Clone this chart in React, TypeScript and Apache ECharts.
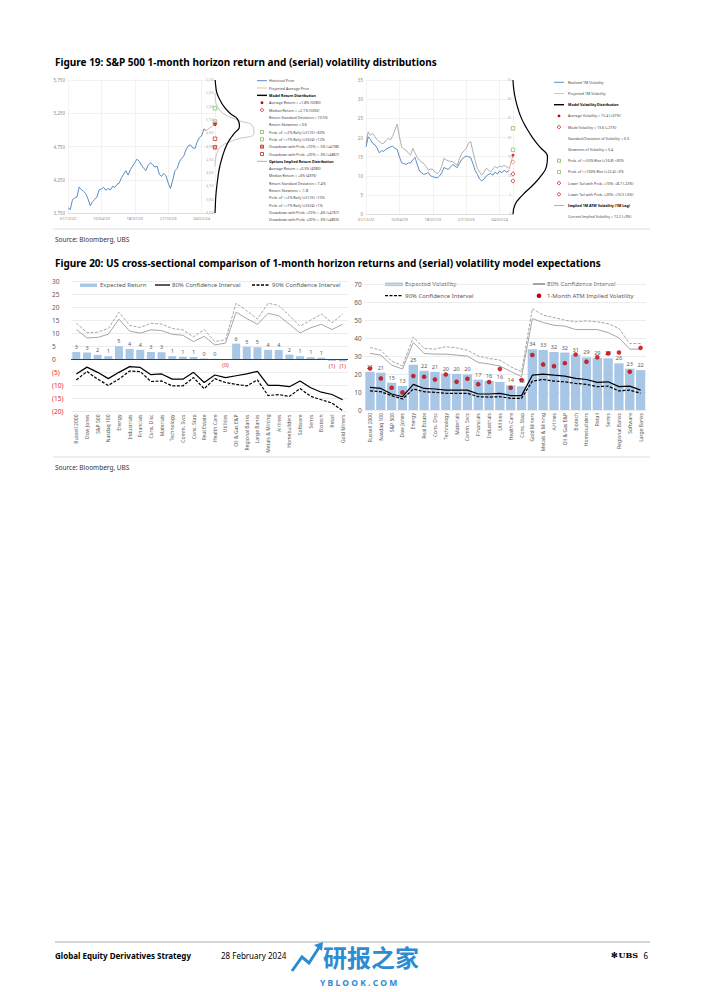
import React, { useEffect, useRef } from 'react';
import * as echarts from 'echarts';

const FONT = '"Noto Sans", "Open Sans", sans-serif';

// ---------- Figure 19 ----------
const dateTickLabels = ['01/12/22', '10/04/23', '18/07/23', '27/10/23', '04/02/24'];
const TICK_STEP = 15;
const HORIZON_INDEX = 66;

const priceHistory = [3830, 3800, 3950, 3975, 3990, 4140, 4100, 4075, 4040, 3960, 3860, 3920, 3955, 3990, 4100, 4110, 4135, 4090, 4120, 4095, 4150, 4135, 4180, 4200, 4280, 4335, 4385, 4320, 4400, 4455, 4510, 4560, 4525, 4470, 4420, 4390, 4470, 4505, 4480, 4440, 4455, 4330, 4300, 4345, 4310, 4200, 4120, 4240, 4385, 4420, 4520, 4570, 4610, 4700, 4760, 4775, 4730, 4720, 4820, 4885, 4910, 5015, 4990];
const priceAverage = 5083;
const priceMedian = 5092;
const priceRallyLevels = [5125, 5324];
const priceDrawdown10 = 4738;
const priceDrawdown20 = 4867;

const distPriceLevels = [3750, 3850, 3950, 4050, 4150, 4250, 4350, 4450, 4550, 4650, 4750, 4850, 4950, 5050, 5150, 5250, 5350, 5450, 5550, 5650, 5750];
const modelReturnDensity = [0, 0.3, 0.6, 1.1, 1.8, 2.6, 3.5, 4.8, 6.5, 8.5, 11, 14.5, 19.5, 24.5, 23, 15, 9, 5, 2, 0.8, 0.2];
const impliedReturnDensity = [null, null, null, null, null, null, null, 0, 0.5, 2, 6, 20, 39, 38, 22, 8, 2.5, 0.5, 0, null, null];

const realizedVol = [17.6, 20.2, 19.5, 18.5, 18.1, 17.3, 16.0, 16.6, 16.4, 17.0, 17.3, 17.6, 17.7, 17.2, 16.9, 15.0, 13.4, 13.2, 13.0, 13.4, 13.4, 14.2, 14.8, 13.0, 11.3, 10.8, 10.4, 10.6, 10.9, 10.0, 9.8, 9.6, 9.5, 10.0, 10.8, 12.2, 11.9, 11.7, 12.4, 13.0, 12.5, 12.2, 13.3, 14.3, 14.8, 15.2, 15.0, 14.8, 13.2, 11.5, 10.4, 9.2, 8.7, 9.2, 10.0, 10.4, 10.6, 10.2, 11.0, 10.5, 11.3, 10.8, 11.5, 11.0, 11.2];
const impliedVolLagged = [18.5, 21.5, 20.6, 21.1, 20.2, 19.5, 18.9, 18.5, 18.5, 19.2, 19.8, 19.4, 20.5, 22.0, 23.5, 20.2, 17.6, 17.0, 16.7, 16.0, 15.4, 17.2, 16.0, 14.8, 14.1, 13.6, 13.2, 12.4, 11.5, 11.8, 11.7, 11.0, 10.6, 11.1, 12.5, 14.6, 14.2, 13.9, 13.8, 13.7, 13.2, 12.8, 14.5, 15.9, 16.5, 17.2, 18.5, 19.0, 16.3, 14.0, 12.0, 11.0, 10.2, 11.0, 12.0, 11.5, 11.1, 11.8, 12.5, 12.0, 12.6, 12.3, 12.8, 12.4, 12.2];
const volAverage = 15.4;
const volMode = 13.6;
const volRiseLevels = [16.8, 22.4];
const volLowerTails = [8.7, 10.5];

const distVolLevels = [0, 2.5, 5, 7.5, 10, 12.5, 15, 17.5, 20, 22.5, 25, 27.5, 30, 32.5, 35];
const modelVolDensity = [0, 2, 9.5, 19.5, 28, 33.5, 34.5, 27, 19.5, 13.5, 8.5, 5, 2.5, 0.8, 0];

const returnLegendTexts = [
  'Historical Price',
  'Projected Average Price',
  'Model Return Distribution',
  'Average Return = +1.8% (5083)',
  'Median Return = +2.1% (5092)',
  'Return Standard Deviation = 10.5%',
  'Return Skewness = 0.6',
  'Prob. of >=2% Rally (≥5125) ≈60%',
  'Prob. of >=7% Rally (≥5324) ≈12%',
  'Drawdown with Prob. ≤10% ≈ -5% (≤4738)',
  'Drawdown with Prob. ≤20% ≈ -3% (≤4867)',
  'Options Implied Return Distribution',
  'Average Return = +0.3% (4980)',
  'Median Return = +0% (4976)',
  'Return Standard Deviation = 7.4%',
  'Return Skewness = -1.8',
  'Prob. of >=2% Rally (≥5125) ≈15%',
  'Prob. of >=7% Rally (≥5324) ≈1%',
  'Drawdown with Prob. ≤10% ≈ -4% (≤4767)',
  'Drawdown with Prob. ≤20% ≈ -3% (≤4853)',
];
const returnLegendSymbols = ['blue', 'red', 'black', 'dot', 'ring', '', '', 'green', 'green', 'redsq', 'redsqo', 'grey', '', '', '', '', '', '', '', ''];

const volLegendTexts = [
  'Realized 1M Volatility',
  'Projected 1M Volatility',
  'Model Volatility Distribution',
  'Average Volatility = 15.4 (+37%)',
  'Mode Volatility = 13.6 (+21%)',
  'Standard Deviation of Volatility = 3.3',
  'Skewness of Volatility = 0.4',
  'Prob. of >=50% Rise (≥16.8) ≈30%',
  'Prob. of >=100% Rise (≥22.4) ≈3%',
  'Lower Tail with Prob. ≤10%: ≤8.7 (-22%)',
  'Lower Tail with Prob. ≤20%: ≤10.5 (-6%)',
  'Implied 1M ATM Volatility (1M Lag)',
  'Current Implied Volatility = 12.2 (+9%)',
];
const volLegendSymbols = ['blue', 'red', 'black', 'dot', 'ring', '', '', 'green', 'green', 'ring', 'ring', 'grey', ''];

// ---------- Figure 20 ----------
const returnCategories = ['Russell 2000', 'Dow Jones', 'S&P 500', 'Nasdaq 100', 'Energy', 'Industrials', 'Financials', 'Cons. Disc', 'Materials', 'Technology', 'Comm. Svcs', 'Cons. Stap', 'Real Estate', 'Health Care', 'Utilities', 'Oil & Gas E&P', 'Regional Banks', 'Large Banks', 'Metals & Mining', 'Airlines', 'Homebuilders', 'Software', 'Semis', 'Biotech', 'Retail', 'Gold Miners'];
const expectedReturn = [2.8, 2.6, 1.7, 1.2, 5.0, 4.0, 3.6, 2.8, 2.7, 1.2, 1.0, 0.9, 0.3, 0.2, -0.3, 6.0, 4.8, 4.6, 3.6, 3.6, 1.8, 1.2, 0.8, 0.6, -0.6, -0.8];
const return80Upper = [11.4, 8.2, 8.4, 9.6, 15.4, 10.8, 10.0, 11.3, 11.0, 9.6, 9.2, 6.8, 8.8, 5.5, 6.2, 18.0, 15.6, 13.4, 17.6, 16.7, 13.4, 10.1, 12.1, 13.4, 11.4, 13.4];
const return90Upper = [13.9, 10.2, 10.4, 11.8, 18.0, 13.0, 12.2, 13.8, 13.5, 11.8, 11.3, 8.6, 11.4, 6.8, 7.5, 21.5, 18.6, 15.4, 21.5, 20.6, 16.7, 12.7, 15.0, 17.3, 14.0, 17.3];
const return80Lower = [-5.6, -3.0, -5.0, -7.4, -5.0, -2.8, -3.1, -5.9, -5.6, -7.6, -7.6, -5.0, -8.9, -6.0, -7.0, -6.3, -5.6, -4.6, -10.0, -10.0, -10.5, -8.3, -10.9, -12.6, -13.5, -15.5];
const return90Lower = [-7.9, -4.7, -7.6, -10.0, -7.6, -4.5, -4.7, -8.5, -8.3, -10.2, -10.2, -7.0, -11.3, -7.4, -8.9, -9.6, -10.2, -7.9, -13.9, -13.5, -14.2, -11.2, -14.2, -15.5, -16.8, -19.7];

const volCategories = ['Russell 2000', 'Nasdaq 100', 'S&P 500', 'Dow Jones', 'Energy', 'Real Estate', 'Cons. Disc', 'Technology', 'Materials', 'Comm. Svcs', 'Financials', 'Industrials', 'Utilities', 'Health Care', 'Cons. Stap', 'Gold Miners', 'Metals & Mining', 'Airlines', 'Oil & Gas E&P', 'Biotech', 'Homebuilders', 'Retail', 'Semis', 'Regional Banks', 'Software', 'Large Banks'];
const expectedVol = [21.3, 20.8, 15.2, 13.4, 25.2, 21.8, 21.2, 20.2, 20.1, 19.8, 16.9, 16.2, 15.6, 13.8, 13.2, 33.8, 33.4, 32.3, 32.0, 30.8, 29.3, 29.0, 28.8, 26.0, 23.0, 22.2];
const atmImpliedVol = [23.1, 17.6, 12.4, 9.8, 18.9, 18.5, 17.0, 19.8, 15.7, 17.4, 14.4, 15.6, 22.8, 12.4, 16.7, 30.6, 25.4, 24.4, 26.1, 30.9, 26.9, 29.4, 31.5, 32.0, 21.3, 34.6];
const vol80Upper = [31.5, 30.6, 25.0, 22.8, 37.6, 31.5, 31.1, 31.1, 30.6, 30.0, 26.5, 25.6, 24.5, 21.5, 18.5, 50.9, 48.7, 47.2, 46.7, 44.8, 44.8, 44.8, 43.1, 40.2, 33.9, 33.9];
const vol90Upper = [34.8, 33.3, 27.2, 24.6, 40.7, 34.3, 33.9, 35.2, 34.6, 33.3, 30.0, 28.7, 27.8, 24.1, 21.3, 56.5, 52.8, 51.5, 50.0, 49.1, 49.6, 49.1, 48.1, 45.4, 37.0, 37.0];
const vol80Lower = [12.6, 12.0, 8.9, 7.4, 14.3, 12.0, 11.7, 11.1, 11.1, 11.1, 8.9, 8.9, 9.3, 8.0, 8.0, 19.4, 20.0, 19.4, 18.9, 17.6, 17.0, 15.4, 15.7, 13.0, 13.3, 11.1];
const vol90Lower = [10.7, 10.2, 8.0, 6.1, 11.7, 10.2, 9.8, 9.3, 9.3, 9.3, 7.4, 7.2, 7.4, 6.5, 6.5, 16.1, 17.0, 16.1, 15.7, 14.8, 14.3, 13.0, 13.3, 10.6, 11.1, 9.3];

const texts = {
  fig19: 'Figure 19: S&P 500 1-month horizon return and (serial) volatility distributions',
  fig20: 'Figure 20: US cross-sectional comparison of 1-month horizon returns and (serial) volatility model expectations',
  source: 'Source: Bloomberg, UBS',
  footerBold: 'Global Equity Derivatives Strategy',
  footerDate: '28 February 2024',
  page: '6',
  watermark: '研报之家',
  watermarkSite: 'Y B L O O K . C O M',
};

// ---------- colours ----------
const BLUE = '#4a7ebb';
const GREY_LINE = '#a6a6a6';
const RED = '#c00000';
const GREEN = '#70ad47';
const BAR = '#a8c6e6';
const TXT = '#595959';
const NEG = '#e0282e';
const GRID = '#e4e4e4';
const WM = '#2d8bd0';

function legendSymbol(kind: string, x: number, y: number, g: any[]) {
  const lineStyle = (stroke: string, w: number) => ({ type: 'line', silent: true, shape: { x1: x - 5, y1: y, x2: x + 5, y2: y }, style: { stroke, lineWidth: w } });
  if (kind === 'blue') g.push(lineStyle(BLUE, 0.9));
  else if (kind === 'red') g.push(lineStyle('#e46c6c', 0.5));
  else if (kind === 'black') g.push(lineStyle('#000', 1.4));
  else if (kind === 'grey') g.push(lineStyle('#b0b0b0', 1));
  else if (kind === 'dot') g.push({ type: 'circle', silent: true, shape: { cx: x, cy: y, r: 1.4 }, style: { fill: RED } });
  else if (kind === 'ring') g.push({ type: 'circle', silent: true, shape: { cx: x, cy: y, r: 1.5 }, style: { fill: '#fff', stroke: RED, lineWidth: 0.7 } });
  else if (kind === 'green') g.push({ type: 'rect', silent: true, shape: { x: x - 1.5, y: y - 1.5, width: 3, height: 3 }, style: { fill: '#fff', stroke: GREEN, lineWidth: 0.7 } });
  else if (kind === 'redsq') g.push({ type: 'rect', silent: true, shape: { x: x - 1.5, y: y - 1.5, width: 3, height: 3 }, style: { fill: '#e8a0a0', stroke: RED, lineWidth: 0.7 } });
  else if (kind === 'redsqo') g.push({ type: 'rect', silent: true, shape: { x: x - 1.5, y: y - 1.5, width: 3, height: 3 }, style: { fill: '#fff', stroke: RED, lineWidth: 0.7 } });
}

function txt(x: number, y: number, text: string, font: string, fill = '#000', align = 'left', extra: any = {}) {
  return { type: 'text', silent: true, x, y, style: { text, font, fill, textAlign: align, textVerticalAlign: 'middle', ...extra } };
}

function buildOption() {
  const g: any[] = [];
  // titles, sources, rules
  g.push(txt(55, 62, texts.fig19, `bold 10px ${FONT}`));
  g.push(txt(55, 263, texts.fig20, `bold 10px ${FONT}`));
  g.push({ type: 'line', silent: true, shape: { x1: 53, y1: 229, x2: 650, y2: 229 }, style: { stroke: '#c8c8c8', lineWidth: 0.6 } });
  g.push(txt(55, 239, texts.source, `6.5px ${FONT}`, '#333'));
  g.push({ type: 'line', silent: true, shape: { x1: 53, y1: 457, x2: 650, y2: 457 }, style: { stroke: '#c8c8c8', lineWidth: 0.6 } });
  g.push(txt(55, 467, texts.source, `6.5px ${FONT}`, '#333'));

  // figure 19 legends
  returnLegendTexts.forEach((t, i) => {
    const y = 80.7 + i * 7.33;
    legendSymbol(returnLegendSymbols[i], 262, y, g);
    const bold = i === 2 || i === 11;
    g.push(txt(269, y, t, `${bold ? 'bold ' : ''}3.6px ${FONT}`, bold ? '#000' : '#404040', 'left', { width: 76, overflow: 'truncate', ellipsis: '' }));
  });
  volLegendTexts.forEach((t, i) => {
    const y = 82.3 + i * 11.2;
    legendSymbol(volLegendSymbols[i], 559, y, g);
    const bold = i === 2 || i === 11;
    g.push(txt(568, y, t, `${bold ? 'bold ' : ''}3.6px ${FONT}`, bold ? '#000' : '#404040'));
  });

  // figure 20 legends
  g.push({ type: 'rect', silent: true, shape: { x: 80, y: 283.5, width: 17, height: 3.5 }, style: { fill: BAR } });
  g.push(txt(100, 285, 'Expected Return', `6px ${FONT}`, TXT));
  g.push({ type: 'line', silent: true, shape: { x1: 155, y1: 285, x2: 170, y2: 285 }, style: { stroke: '#000', lineWidth: 1.3 } });
  g.push(txt(172, 285, '80% Confidence Interval', `6px ${FONT}`, TXT));
  g.push({ type: 'line', silent: true, shape: { x1: 252, y1: 285, x2: 270, y2: 285 }, style: { stroke: '#000', lineWidth: 1.3, lineDash: [3, 1.5] } });
  g.push(txt(272, 285, '90% Confidence Interval', `6px ${FONT}`, TXT));

  g.push({ type: 'rect', silent: true, shape: { x: 385, y: 282.6, width: 18, height: 3.5 }, style: { fill: BAR } });
  g.push(txt(405, 284.3, 'Expected Volatility', `6px ${FONT}`, TXT));
  g.push({ type: 'line', silent: true, shape: { x1: 533, y1: 284.3, x2: 545, y2: 284.3 }, style: { stroke: '#000', lineWidth: 1.3 } });
  g.push(txt(547, 284.3, '80% Confidence Interval', `6px ${FONT}`, TXT));
  g.push({ type: 'line', silent: true, shape: { x1: 385, y1: 295.7, x2: 403, y2: 295.7 }, style: { stroke: '#000', lineWidth: 1.3, lineDash: [3, 1.5] } });
  g.push(txt(405, 295.7, '90% Confidence Interval', `6px ${FONT}`, TXT));
  g.push({ type: 'circle', silent: true, shape: { cx: 539, cy: 295.7, r: 2.3 }, style: { fill: RED } });
  g.push(txt(547, 295.7, '1-Month ATM Implied Volatility', `6px ${FONT}`, TXT));

  // footer
  g.push({ type: 'line', silent: true, shape: { x1: 55, y1: 942, x2: 650, y2: 942 }, style: { stroke: '#9a9a9a', lineWidth: 0.8 } });
  g.push(txt(55, 955, texts.footerBold, `bold 8px ${FONT}`, '#000'));
  g.push(txt(221, 955, texts.footerDate, `8px ${FONT}`, '#000'));
  g.push(txt(638, 955, '✻UBS', `bold 8px "DejaVu Serif", serif`, '#000', 'right'));
  g.push(txt(648, 955, texts.page, `8px ${FONT}`, '#000', 'right'));
  // watermark
  g.push({ type: 'polyline', silent: true, shape: { points: [[292, 971], [302, 957], [309, 963], [320, 946]] }, style: { stroke: WM, lineWidth: 3, fill: null } });
  g.push({ type: 'polygon', silent: true, shape: { points: [[314, 945], [323, 942], [322, 951]] }, style: { fill: WM } });
  g.push(txt(323, 956, texts.watermark, `bold 24px "Noto Sans CJK SC"`, WM));
  g.push(txt(320, 982, texts.watermarkSite, `bold 8.5px ${FONT}`, WM));

  const axisText = { fontFamily: FONT, color: '#8c8c8c' };
  const dateFormatter = (v: number) => (v % TICK_STEP === 0 && dateTickLabels[v / TICK_STEP]) || '';
  const lastPriceIdx = priceHistory.length - 1;
  const lastVolIdx = realizedVol.length - 1;

  const series: any[] = [
    // fig 19 price
    { type: 'line', xAxisIndex: 0, yAxisIndex: 0, showSymbol: false, data: priceHistory.map((v, i) => [i, v]), lineStyle: { color: BLUE, width: 0.9 }, itemStyle: { color: BLUE } },
    { type: 'line', xAxisIndex: 0, yAxisIndex: 0, showSymbol: false, data: [[lastPriceIdx, priceHistory[lastPriceIdx]], [HORIZON_INDEX, priceAverage]], lineStyle: { color: '#e46c6c', width: 0.6 } },
    { type: 'scatter', xAxisIndex: 0, yAxisIndex: 0, symbol: 'rect', symbolSize: 3.5, data: priceRallyLevels.map((v) => [HORIZON_INDEX, v]), itemStyle: { color: '#fff', borderColor: GREEN, borderWidth: 0.8 } },
    { type: 'scatter', xAxisIndex: 0, yAxisIndex: 0, symbol: 'rect', symbolSize: 3.5, data: [[HORIZON_INDEX, priceDrawdown10]], itemStyle: { color: '#e8a0a0', borderColor: RED, borderWidth: 0.8 } },
    { type: 'scatter', xAxisIndex: 0, yAxisIndex: 0, symbol: 'rect', symbolSize: 3.5, data: [[HORIZON_INDEX, priceDrawdown20]], itemStyle: { color: '#fff', borderColor: RED, borderWidth: 0.8 } },
    { type: 'scatter', xAxisIndex: 0, yAxisIndex: 0, symbol: 'circle', symbolSize: 3.5, data: [[HORIZON_INDEX, priceMedian]], itemStyle: { color: '#fff', borderColor: RED, borderWidth: 0.8 } },
    { type: 'scatter', xAxisIndex: 0, yAxisIndex: 0, symbol: 'circle', symbolSize: 3, data: [[HORIZON_INDEX, priceAverage]], itemStyle: { color: RED } },
    // price distributions
    { type: 'line', xAxisIndex: 1, yAxisIndex: 1, showSymbol: false, smooth: true, data: distPriceLevels.map((p, i) => [impliedReturnDensity[i], p]), lineStyle: { color: '#bdbdbd', width: 0.9 } },
    { type: 'line', xAxisIndex: 1, yAxisIndex: 1, showSymbol: false, smooth: true, data: distPriceLevels.map((p, i) => [modelReturnDensity[i], p]), lineStyle: { color: '#000', width: 1.2 } },
    // fig 19 vol
    { type: 'line', xAxisIndex: 2, yAxisIndex: 2, showSymbol: false, data: impliedVolLagged.map((v, i) => [i, v]), lineStyle: { color: GREY_LINE, width: 0.9 } },
    { type: 'line', xAxisIndex: 2, yAxisIndex: 2, showSymbol: false, data: realizedVol.map((v, i) => [i, v]), lineStyle: { color: BLUE, width: 0.9 } },
    { type: 'line', xAxisIndex: 2, yAxisIndex: 2, showSymbol: false, data: [[lastVolIdx, realizedVol[lastVolIdx]], [HORIZON_INDEX, volAverage]], lineStyle: { color: '#e46c6c', width: 0.6 } },
    { type: 'scatter', xAxisIndex: 2, yAxisIndex: 2, symbol: 'rect', symbolSize: 3.5, data: volRiseLevels.map((v) => [HORIZON_INDEX, v]), itemStyle: { color: '#fff', borderColor: GREEN, borderWidth: 0.8 } },
    { type: 'scatter', xAxisIndex: 2, yAxisIndex: 2, symbol: 'circle', symbolSize: 3.5, data: volLowerTails.map((v) => [HORIZON_INDEX, v]), itemStyle: { color: '#fff', borderColor: RED, borderWidth: 0.8 } },
    { type: 'scatter', xAxisIndex: 2, yAxisIndex: 2, symbol: 'circle', symbolSize: 3.5, data: [[HORIZON_INDEX, volMode]], itemStyle: { color: '#fff', borderColor: '#e57373', borderWidth: 0.8 } },
    { type: 'scatter', xAxisIndex: 2, yAxisIndex: 2, symbol: 'circle', symbolSize: 3, data: [[HORIZON_INDEX, volAverage]], itemStyle: { color: RED } },
    { type: 'line', xAxisIndex: 3, yAxisIndex: 3, showSymbol: false, smooth: true, data: distVolLevels.map((v, i) => [modelVolDensity[i], v]), lineStyle: { color: '#000', width: 1.2 } },
    // fig 20 left
    {
      type: 'bar', xAxisIndex: 4, yAxisIndex: 4, barCategoryGap: '25%', itemStyle: { color: BAR },
      data: expectedReturn.map((v) => ({
        value: v,
        label: {
          show: true, position: v < 0 ? 'bottom' : 'top', distance: 2, fontSize: 5.5, fontFamily: FONT,
          color: v < 0 ? NEG : TXT, formatter: v < 0 ? `(${Math.round(-v)})` : `${Math.round(v)}`,
        },
      })),
      markLine: { silent: true, symbol: 'none', label: { show: false }, lineStyle: { color: '#3c3c4c', width: 1.2, type: 'solid' }, data: [{ yAxis: 0 }] },
    },
    { type: 'line', xAxisIndex: 4, yAxisIndex: 4, showSymbol: false, data: return90Upper, lineStyle: { color: GREY_LINE, width: 1, type: [3, 1.5] } },
    { type: 'line', xAxisIndex: 4, yAxisIndex: 4, showSymbol: false, data: return80Upper, lineStyle: { color: GREY_LINE, width: 1 } },
    { type: 'line', xAxisIndex: 4, yAxisIndex: 4, showSymbol: false, data: return90Lower, lineStyle: { color: '#000', width: 1.2, type: [3, 1.5] } },
    { type: 'line', xAxisIndex: 4, yAxisIndex: 4, showSymbol: false, data: return80Lower, lineStyle: { color: '#000', width: 1.2 } },
    // fig 20 right
    {
      type: 'bar', xAxisIndex: 5, yAxisIndex: 5, barCategoryGap: '14%', itemStyle: { color: BAR }, data: expectedVol,
      label: { show: true, position: 'top', distance: 2, fontSize: 5.5, fontFamily: FONT, color: TXT, formatter: (p: any) => `${Math.round(p.value)}` },
    },
    { type: 'line', xAxisIndex: 5, yAxisIndex: 5, showSymbol: false, data: vol90Upper, lineStyle: { color: GREY_LINE, width: 1, type: [3, 1.5] } },
    { type: 'line', xAxisIndex: 5, yAxisIndex: 5, showSymbol: false, data: vol80Upper, lineStyle: { color: GREY_LINE, width: 1 } },
    { type: 'line', xAxisIndex: 5, yAxisIndex: 5, showSymbol: false, data: vol90Lower, lineStyle: { color: '#000', width: 1.2, type: [3, 1.5] } },
    { type: 'line', xAxisIndex: 5, yAxisIndex: 5, showSymbol: false, data: vol80Lower, lineStyle: { color: '#000', width: 1.2 } },
    { type: 'scatter', xAxisIndex: 5, yAxisIndex: 5, symbol: 'circle', symbolSize: 4.6, z: 5, data: atmImpliedVol, itemStyle: { color: RED } },
  ];

  const hiddenX = (gridIndex: number, max: number) => ({ gridIndex, type: 'value', min: 0, max, show: false });
  const catX = (gridIndex: number, data: string[]) => ({
    gridIndex, type: 'category', data, axisLine: { show: false }, axisTick: { show: false },
    axisLabel: { rotate: 90, interval: 0, fontSize: 5, color: TXT, fontFamily: FONT, margin: 3 },
  });
  const dateX = (gridIndex: number) => ({
    gridIndex, type: 'value', min: 0, max: HORIZON_INDEX, interval: TICK_STEP,
    axisLine: { show: true, lineStyle: { color: '#d0d0d0', width: 0.6 } }, axisTick: { show: false },
    splitLine: { show: true, lineStyle: { color: GRID, width: 0.5 } },
    axisLabel: { ...axisText, fontSize: 4, margin: 3, formatter: dateFormatter },
  });

  return {
    animation: false,
    backgroundColor: '#fff',
    textStyle: { fontFamily: FONT },
    grid: [
      { left: 68, top: 80, width: 147, height: 133 },
      { left: 215, top: 80, width: 50, height: 133 },
      { left: 366, top: 80, width: 147, height: 134.3 },
      { left: 513, top: 80, width: 45, height: 134.3 },
      { left: 71, top: 281, width: 277, height: 130.5 },
      { left: 364.6, top: 284.3, width: 281.4, height: 125.7 },
    ],
    xAxis: [dateX(0), hiddenX(1, 50), dateX(2), hiddenX(3, 45), catX(4, returnCategories), catX(5, volCategories)],
    yAxis: [
      { gridIndex: 0, type: 'value', min: 3750, max: 5750, interval: 500, axisLine: { show: false }, axisTick: { show: false }, splitLine: { lineStyle: { color: GRID, width: 0.5 } }, axisLabel: { ...axisText, fontSize: 4.5, margin: 3 } },
      { gridIndex: 1, type: 'value', min: 3750, max: 5750, interval: 200, axisLine: { show: false }, axisTick: { show: false }, splitLine: { show: false }, axisLabel: { ...axisText, color: '#a8a8a8', fontSize: 2.8, margin: 1.5 } },
      { gridIndex: 2, type: 'value', min: 0, max: 35, interval: 5, axisLine: { show: false }, axisTick: { show: false }, splitLine: { lineStyle: { color: GRID, width: 0.5 } }, axisLabel: { ...axisText, fontSize: 4.5, margin: 3 } },
      { gridIndex: 3, type: 'value', min: 0, max: 35, interval: 5, axisLine: { show: false }, axisTick: { show: false }, splitLine: { show: false }, axisLabel: { ...axisText, color: '#a8a8a8', fontSize: 2.8, margin: 2 } },
      {
        gridIndex: 4, type: 'value', min: -20, max: 30, interval: 5, axisLine: { show: false }, axisTick: { show: false },
        splitLine: { lineStyle: { color: GRID, width: 0.7 } },
        axisLabel: { fontFamily: FONT, fontSize: 6.5, margin: 19, align: 'left', formatter: (v: number) => (v < 0 ? `(${-v})` : `${v}`), color: (v: any) => (Number(v) < 0 ? NEG : TXT) },
      },
      { gridIndex: 5, type: 'value', min: 0, max: 70, interval: 10, axisLine: { show: false }, axisTick: { show: false }, splitLine: { lineStyle: { color: GRID, width: 0.7 } }, axisLabel: { fontFamily: FONT, fontSize: 6.5, color: TXT, margin: 3 } },
    ],
    series,
    graphic: { elements: g },
  };
}

export default function App() {
  const ref = useRef<HTMLDivElement>(null);
  useEffect(() => {
    if (!ref.current) return;
    const chart = echarts.init(ref.current, undefined, { renderer: 'svg', width: 702, height: 992 });
    chart.setOption(buildOption() as any);
    return () => chart.dispose();
  }, []);
  return <div ref={ref} style={{ position: 'absolute', left: 0, top: 0, width: 702, height: 992, background: '#fff' }} />;
}
